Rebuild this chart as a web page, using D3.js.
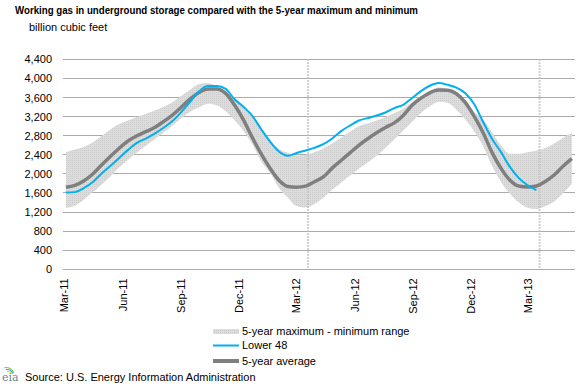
<!DOCTYPE html>
<html>
<head>
<meta charset="utf-8">
<script src="https://cdn.jsdelivr.net/npm/d3@7/dist/d3.min.js"></script>
<style>
  body { margin: 0; background: #fff; }
  svg { display: block; font-family: "Liberation Sans", Arial, sans-serif; }
</style>
</head>
<body>
<svg id="chart" width="582" height="385"></svg>
<script>
/* Weekly storage chart, redrawn from the EIA picture. Values are read off
   the picture every second week (bcf). */

const PLOT = {left: 63, right: 575, top: 59.3, bottom: 269.3};

const START_WEEK = new Date(2011, 2, 4);
const weeks = d3.range(58).map(i => d3.timeDay.offset(START_WEEK, 14 * i));

const lower48 = [1610, 1617, 1699, 1823, 2003, 2166, 2333, 2502, 2648, 2739,
                 2842, 2965, 3105, 3296, 3511, 3728, 3839, 3839, 3780, 3563,
                 3406, 3214, 2935, 2674, 2468, 2380, 2438, 2490, 2545, 2621,
                 2741, 2894, 3012, 3117, 3168, 3222, 3285, 3378, 3447, 3589,
                 3734, 3846, 3902, 3865, 3807, 3687, 3459, 3088, 2736, 2460,
                 2150, 1916, 1762, 1657];

const avg5 = [1717, 1757, 1851, 1992, 2179, 2363, 2537, 2689, 2798, 2885,
              2970, 3096, 3231, 3396, 3570, 3705, 3776, 3776, 3686, 3442,
              3132, 2761, 2419, 2119, 1867, 1736, 1720, 1742, 1835, 1935,
              2120, 2279, 2440, 2598, 2736, 2860, 2972, 3068, 3223, 3437,
              3587, 3698, 3755, 3750, 3678, 3492, 3202, 2862, 2450, 2120,
              1870, 1745, 1725, 1745, 1840, 1975, 2160, 2320];

const max5 = [2455, 2508, 2564, 2656, 2790, 2930, 3045, 3120, 3189, 3260,
              3328, 3407, 3500, 3634, 3764, 3881, 3905, 3828, 3720, 3590,
              3420, 3230, 2960, 2700, 2520, 2440, 2385, 2400, 2450, 2530,
              2641, 2755, 2884, 2999, 3054, 3116, 3191, 3274, 3366, 3503,
              3627, 3735, 3816, 3769, 3690, 3542, 3288, 3150, 2870, 2600,
              2420, 2420, 2455, 2490, 2544, 2636, 2753, 2860];

const min5 = [1287, 1332, 1457, 1612, 1773, 1946, 2131, 2296, 2449, 2589,
              2727, 2867, 3006, 3167, 3302, 3395, 3471, 3435, 3310, 3124,
              2898, 2620, 2261, 2020, 1706, 1502, 1320, 1295, 1370, 1500,
              1665, 1815, 1963, 2107, 2236, 2378, 2548, 2723, 2907, 3092,
              3277, 3416, 3508, 3490, 3345, 3141, 2895, 2580, 2168, 1836,
              1587, 1403, 1292, 1265, 1320, 1420, 1590, 1790];

const xTickDates = ["2011-03-01", "2011-06-01", "2011-09-01", "2011-12-01", "2012-03-01",
                    "2012-06-01", "2012-09-01", "2012-12-01", "2013-03-01"];
const yTicks = [0, 400, 800, 1200, 1600, 2000, 2400, 2800, 3200, 3600, 4000, 4400];
const markerDates = ["2012-03-20", "2013-03-20"];
const seriesNames = ["5-year maximum - minimum range", "Lower 48", "5-year average"];

const BLUE = "#00b0f0", GREY = "#7f7f7f";

const parseDay = d3.timeParse("%Y-%m-%d");

function makeChart(selector) {
    let svg = d3.select(selector);

    let x = d3.scaleTime()
        .domain([new Date(2011, 2, 1), new Date(2013, 2, 1)])
        .range([64, 527.5]);
    let y = d3.scaleLinear()
        .domain([0, 4400])
        .range([PLOT.bottom, PLOT.top]);

    // light dotted texture for the range band
    let pat = svg.append("defs").append("pattern")
        .attr("id", "dots")
        .attr("width", 2).attr("height", 2)
        .attr("patternUnits", "userSpaceOnUse");
    pat.append("rect").attr("width", 2).attr("height", 2).attr("fill", "#dcdcdc");
    pat.append("rect").attr("width", 1).attr("height", 1).attr("fill", "#cdcdcd");

    // title + unit
    svg.append("text")
        .attr("x", 15).attr("y", 13.5)
        .attr("font-size", 11).attr("font-weight", "bold")
        .attr("textLength", 403).attr("lengthAdjust", "spacingAndGlyphs")
        .text("Working gas in underground storage compared with the 5-year maximum and minimum");
    svg.append("text")
        .attr("x", 29).attr("y", 31)
        .attr("font-size", 11)
        .text("billion cubic feet");

    // gridlines
    svg.append("g").selectAll("line")
        .data(yTicks)
        .join("line")
        .attr("x1", PLOT.left).attr("x2", PLOT.right)
        .attr("y1", d => y(d)).attr("y2", d => y(d))
        .attr("stroke", "#ababab")
        .attr("shape-rendering", "crispEdges");

    // y axis labels
    let yAxis = svg.append("g")
        .attr("transform", `translate(${PLOT.left},0)`)
        .call(d3.axisLeft(y).tickValues(yTicks).tickFormat(d3.format(",")).tickSize(0).tickPadding(11));
    yAxis.select(".domain").remove();
    yAxis.attr("font-family", null).attr("font-size", 11);
    yAxis.selectAll("text").attr("fill", "#000");

    // x axis labels, rotated
    let xAxis = svg.append("g")
        .attr("transform", `translate(0,${PLOT.bottom})`)
        .call(d3.axisBottom(x).tickValues(xTickDates.map(parseDay))
            .tickFormat(d3.timeFormat("%b-%y")).tickSize(0));
    xAxis.select(".domain").remove();
    xAxis.attr("font-family", null).attr("font-size", 11);
    xAxis.selectAll("text")
        .attr("fill", "#000")
        .attr("transform", "rotate(-90)")
        .attr("text-anchor", "end")
        .attr("x", -9).attr("y", 0).attr("dy", "0.35em");

    // 5-year band
    let rangeData = weeks.map((d, i) => ({date: d, lo: min5[i], hi: max5[i]}));
    svg.append("path")
        .datum(rangeData)
        .attr("fill", "url(#dots)")
        .attr("d", d3.area()
            .curve(d3.curveMonotoneX)
            .x(d => x(d.date))
            .y0(d => y(d.lo))
            .y1(d => y(d.hi)));

    // week markers
    svg.append("g").selectAll("line")
        .data(markerDates.map(parseDay))
        .join("line")
        .attr("x1", d => x(d)).attr("x2", d => x(d))
        .attr("y1", PLOT.top).attr("y2", PLOT.bottom)
        .attr("stroke", "#c0c0c0")
        .attr("stroke-width", 2)
        .attr("stroke-dasharray", "1.5,1.5");

    let line = d3.line()
        .curve(d3.curveMonotoneX)
        .x(d => x(d[0]))
        .y(d => y(d[1]));

    svg.append("path")
        .datum(weeks.map((d, i) => [d, avg5[i]]))
        .attr("fill", "none")
        .attr("stroke", GREY)
        .attr("stroke-width", 3.5)
        .attr("stroke-linejoin", "round")
        .attr("d", line);

    svg.append("path")
        .datum(lower48.map((v, i) => [weeks[i], v]))
        .attr("fill", "none")
        .attr("stroke", BLUE)
        .attr("stroke-width", 2)
        .attr("stroke-linejoin", "round")
        .attr("d", line);

    // legend
    let legend = svg.append("g").attr("font-size", 11);
    let rows = [
        {name: seriesNames[0], y: 331.5, stroke: "url(#dots)", width: 5},
        {name: seriesNames[1], y: 345.5, stroke: BLUE, width: 2},
        {name: seriesNames[2], y: 361, stroke: GREY, width: 4}
    ];
    rows.forEach(r => {
        if (r.stroke.startsWith("url")) {
            legend.append("rect")
                .attr("x", 213).attr("y", r.y - r.width / 2)
                .attr("width", 26).attr("height", r.width)
                .attr("fill", r.stroke);
        } else {
            legend.append("line")
                .attr("x1", 213).attr("x2", 239)
                .attr("y1", r.y).attr("y2", r.y)
                .attr("stroke", r.stroke)
                .attr("stroke-width", r.width);
        }
        legend.append("text")
            .attr("x", 242).attr("y", r.y)
            .attr("dy", "0.35em")
            .text(r.name);
    });

    // source line + small eia mark
    let logo = svg.append("g");
    [["#8dc63f", 9], ["#00a9e0", 7], ["#f7d117", 5]].forEach(([c, rad], k) => {
        logo.append("path")
            .attr("d", d3.arc()({innerRadius: rad - 1, outerRadius: rad, startAngle: -0.2, endAngle: 1.2}))
            .attr("transform", `translate(${6 + k},${376})`)
            .attr("fill", c);
    });
    logo.append("text")
        .attr("x", 2).attr("y", 381)
        .attr("font-family", "DejaVu Serif, serif")
        .attr("font-size", 11)
        .attr("fill", "#6d7f8f")
        .text("eia");
    svg.append("text")
        .attr("x", 25).attr("y", 381)
        .attr("font-size", 11)
        .text("Source:  U.S. Energy Information Administration");

    return svg;
}

makeChart("#chart");
</script>
</body>
</html>
